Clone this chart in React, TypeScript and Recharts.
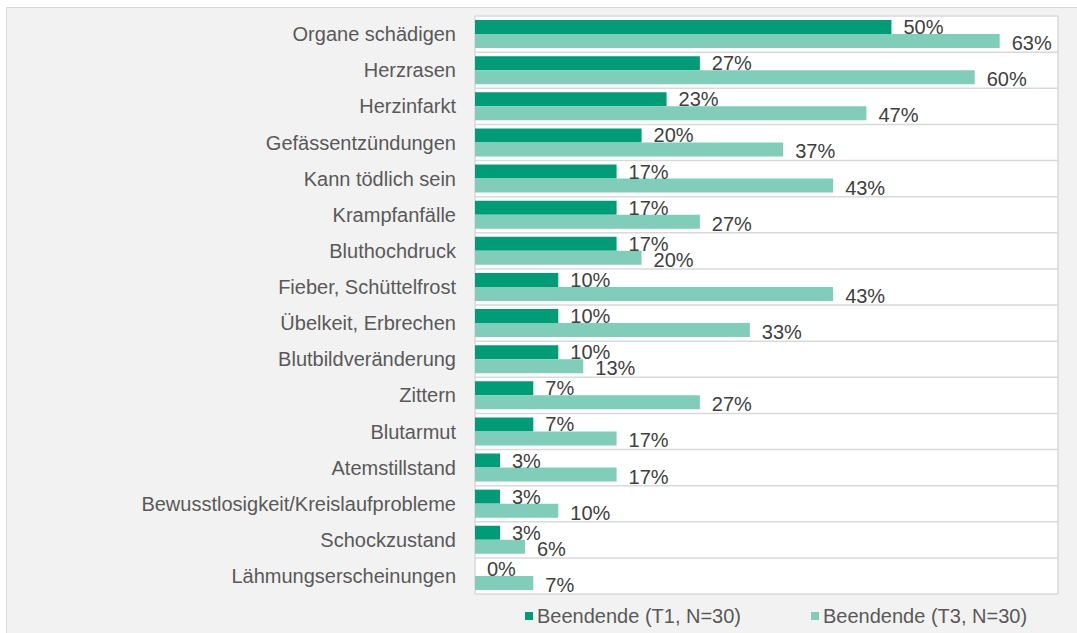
import React from "react";
import { BarChart, Bar, XAxis, YAxis, CartesianGrid, LabelList } from "recharts";

const categories = [
  "Organe schädigen",
  "Herzrasen",
  "Herzinfarkt",
  "Gefässentzündungen",
  "Kann tödlich sein",
  "Krampfanfälle",
  "Bluthochdruck",
  "Fieber, Schüttelfrost",
  "Übelkeit, Erbrechen",
  "Blutbildveränderung",
  "Zittern",
  "Blutarmut",
  "Atemstillstand",
  "Bewusstlosigkeit/Kreislaufprobleme",
  "Schockzustand",
  "Lähmungserscheinungen",
];
const t1Values = [50, 27, 23, 20, 17, 17, 17, 10, 10, 10, 7, 7, 3, 3, 3, 0];
const t3Values = [63, 60, 47, 37, 43, 27, 20, 43, 33, 13, 27, 17, 17, 10, 6, 7];
const seriesNames = ["Beendende (T1, N=30)", "Beendende (T3, N=30)"];

const data = categories.map((c, i) => ({ name: c, t1: t1Values[i], t3: t3Values[i] }));

const DARK = "#009B77";
const LIGHT = "#80CDBA";
const FONT = "'Liberation Sans', Arial, sans-serif";
const N = categories.length;
const legendItems = [
  { name: seriesNames[0], color: DARK },
  { name: seriesNames[1], color: LIGHT },
];

const makeLabel = (dy: number) => (props: any) => {
  const { x, y, width, height, value } = props;
  if (x == null || y == null) return null;
  const w = Math.max(0, Number(width) || 0);
  return (
    <text
      x={Number(x) + w + 12}
      y={Number(y) + (Number(height) || 0) / 2 + dy}
      dominantBaseline="central"
      fill="#404040"
      fontSize={20}
      fontFamily={FONT}
    >
      {`${value}%`}
    </text>
  );
};

export default function App() {
  return (
    <div style={{ position: "absolute", left: 0, top: 0, width: 1077, height: 633, background: "#fff", overflow: "hidden" }}>
      <div style={{ position: "absolute", left: 6, top: 7, width: 1080, height: 640, background: "#f2f2f2", border: "1px solid #d9d9d9" }} />
      <div style={{ position: "absolute", left: 0, top: 0 }}>
        <BarChart
          width={1077}
          height={633}
          data={data}
          layout="vertical"
          margin={{ top: 16, right: 19, bottom: 39, left: 0 }}
          barCategoryGap={4}
          barGap={0}
        >
          <CartesianGrid
            fill="#ffffff"
            stroke="#d9d9d9"
            strokeWidth={1.5}
            horizontalCoordinatesGenerator={({ offset }: any) =>
              Array.from({ length: N + 1 }, (_, i) => offset.top + (i * offset.height) / N)
            }
            verticalCoordinatesGenerator={({ offset }: any) => [offset.left, offset.left + offset.width]}
          />
          <XAxis type="number" domain={[0, 70]} hide />
          <YAxis
            type="category"
            dataKey="name"
            width={475}
            axisLine={false}
            tickLine={false}
            tickMargin={13}
            interval={0}
            tick={{ fill: "#595959", fontSize: 20, fontFamily: FONT }}
          />
          <Bar
            dataKey="t1"
            name={seriesNames[0]}
            fill={DARK}
            isAnimationActive={false}
            minPointSize={(v: any) => (v === 0 ? 0.01 : 0)}
          >
            <LabelList dataKey="t1" content={makeLabel(0)} />
          </Bar>
          <Bar dataKey="t3" name={seriesNames[1]} fill={LIGHT} isAnimationActive={false}>
            <LabelList dataKey="t3" content={makeLabel(2)} />
          </Bar>
        </BarChart>
      </div>
      <div
        style={{
          position: "absolute",
          left: 525,
          top: 603,
          display: "flex",
          whiteSpace: "nowrap",
          fontFamily: FONT,
          fontSize: 20,
          color: "#595959",
          lineHeight: "26px",
        }}
      >
        {legendItems.map((it, i) => (
          <div key={i} style={{ display: "flex", alignItems: "center", marginRight: 70 }}>
            <span style={{ display: "inline-block", width: 8, height: 8, background: it.color, marginRight: 4 }} />
            <span>{it.name}</span>
          </div>
        ))}
      </div>
    </div>
  );
}
